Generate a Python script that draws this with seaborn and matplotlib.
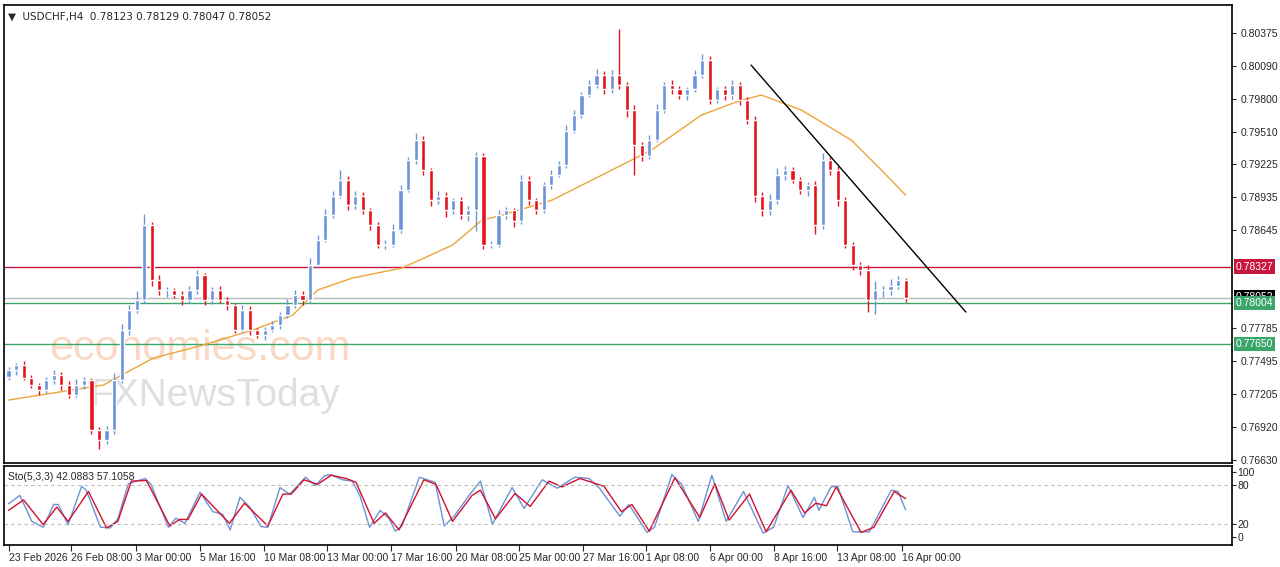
import matplotlib
matplotlib.use("Agg")
import matplotlib.pyplot as plt
import seaborn as sns
import pandas as pd
import numpy as np

# USDCHF H4 closes
closes = [0.7742, 0.7746, 0.7735, 0.7729, 0.7724, 0.7733, 0.7738, 0.7729, 0.7720, 0.7729,
          0.7733, 0.7689, 0.7681, 0.7689, 0.7733, 0.7777, 0.7795, 0.7803, 0.7869, 0.7821,
          0.7812, 0.7812, 0.7808, 0.7803, 0.7812, 0.7825, 0.7803, 0.7812, 0.7803, 0.7799,
          0.7777, 0.7795, 0.7777, 0.7773, 0.7777, 0.7781, 0.7790, 0.7799, 0.7808, 0.7803,
          0.7834, 0.7856, 0.7878, 0.7895, 0.7909, 0.7887, 0.7895, 0.7882, 0.7869, 0.7852,
          0.7852, 0.7865, 0.7900, 0.7926, 0.7944, 0.7917, 0.7891, 0.7895, 0.7882, 0.7891,
          0.7878, 0.7882, 0.7930, 0.7852, 0.7852, 0.7878, 0.7882, 0.7873, 0.7909, 0.7891,
          0.7882, 0.7904, 0.7913, 0.7922, 0.7952, 0.7966, 0.7983, 0.7992, 0.8001, 0.7988,
          0.8001, 0.7992, 0.7970, 0.7939, 0.7930, 0.7944, 0.7970, 0.7992, 0.7988, 0.7983,
          0.7988, 0.8001, 0.8014, 0.7979, 0.7988, 0.7983, 0.7992, 0.7979, 0.7961, 0.7895,
          0.7882, 0.7891, 0.7913, 0.7917, 0.7909, 0.7900, 0.7904, 0.7869, 0.7926, 0.7917,
          0.7891, 0.7852, 0.7834, 0.7830, 0.7803, 0.7812, 0.7812, 0.7816, 0.7821, 0.7805]
first_open = 0.7736
# upper / lower wick lengths in pips
wick_up = [3, 2, 4, 3, 2, 3, 4, 2, 3, 5, 3, 2, 3, 4, 6, 5, 4, 8, 10, 3,
           4, 3, 2, 3, 4, 5, 2, 3, 4, 3, 2, 4, 3, 2, 3, 4, 3, 5, 4, 3,
           6, 4, 5, 4, 8, 3, 4, 3, 2, 3, 4, 5, 4, 3, 6, 3, 2, 4, 3, 2,
           3, 4, 3, 2, 3, 4, 3, 2, 4, 3, 2, 3, 4, 3, 5, 4, 3, 4, 5, 3,
           4, 40, 3, 4, 3, 4, 5, 3, 4, 3, 2, 4, 5, 3, 2, 3, 4, 3, 2, 4,
           3, 5, 6, 4, 3, 2, 3, 4, 6, 3, 4, 3, 2, 3, 4, 8, 4, 6, 3, 2]
wick_down = [3, 4, 2, 3, 4, 2, 3, 5, 3, 2, 4, 3, 8, 4, 3, 2, 4, 3, 2, 5,
             4, 6, 3, 4, 2, 3, 4, 3, 2, 4, 3, 2, 4, 3, 5, 2, 3, 2, 3, 4,
             2, 3, 2, 3, 2, 5, 4, 3, 4, 3, 4, 2, 3, 2, 3, 4, 5, 3, 6, 3,
             4, 5, 18, 4, 3, 2, 4, 6, 3, 4, 3, 2, 3, 2, 3, 2, 3, 2, 3, 4,
             3, 4, 6, 26, 5, 3, 2, 3, 4, 3, 4, 2, 3, 4, 3, 4, 3, 5, 3, 6,
             5, 4, 3, 4, 3, 4, 5, 8, 3, 4, 5, 3, 4, 5, 10, 12, 6, 4, 3, 3]

# moving average keypoints (bar, price)
ma_bar = [0, 12.6, 19.2, 25.8, 32.4, 37.7, 41, 45.6, 52.2, 58.9, 62.8, 65.5, 72.1,
          78.7, 85.3, 91.9, 97.2, 99.9, 105.2, 111.8, 115.8, 119]
ma_val = [0.77156, 0.77288, 0.77524, 0.77638, 0.7777, 0.77901, 0.78121, 0.78226, 0.78314,
          0.78515, 0.78734, 0.78778, 0.7891, 0.79129, 0.79349, 0.79655, 0.79787, 0.79831,
          0.79699, 0.79436, 0.79173, 0.78954]

trend_bar = [98.5, 127]
trend_val = [0.80094, 0.77928]

levels = [0.78327, 0.78004, 0.77650]
level_colors = ["#c8173f", "#3aa66a", "#3aa66a"]
last_price = 0.78052
price_ticks = [0.80375, 0.80090, 0.79800, 0.79510, 0.79225, 0.78935, 0.78645,
               0.77785, 0.77495, 0.77205, 0.76920, 0.76630]

# stochastic keypoints (bar, value)
k_bar = [0, 1.5, 3.1, 4.6, 6, 6.6, 7.9, 9.7, 10.3, 12.2, 13.5, 14.5, 15.9, 18.1, 18.9, 21.2,
         22.2, 23.4, 25.4, 27.1, 28.4, 29.4, 30.7, 32, 33.5, 34.4, 36, 37.3, 39.4, 40.7, 41.9,
         42.7, 44.3, 45.6, 46.6, 47.9, 49.3, 50.5, 51.3, 52.2, 54.5, 56.6, 57.8, 59.1, 61.1,
         62.6, 64.2, 66.8, 68.4, 70.8, 72.8, 75.1, 77, 78.4, 81.1, 82.3, 84.7, 85.7, 88, 89.3,
         91.5, 93.3, 95.2, 97.5, 100.1, 101.5, 103.4, 105.4, 106.9, 107.5, 109.1, 110, 112,
         114.2, 117.1, 118, 119]
k_val = [51, 64, 24, 15, 50, 50, 19, 78, 72, 15, 14, 28, 82, 90, 81, 15,
         29, 21, 69, 39, 35, 11, 61, 46, 16, 15, 76, 66, 92, 79, 94,
         96, 88, 86, 64, 15, 41, 28, 9, 17, 92, 84, 17, 32, 64,
         86, 20, 76, 44, 88, 75, 92, 90, 75, 32, 50, 7, 15, 96, 81,
         24, 95, 24, 70, 6, 15, 79, 30, 61, 41, 77, 78, 8,
         8, 72, 70, 42]
d_bar = [0, 2, 4.6, 6.4, 7.9, 10.6, 13, 14.5, 16.3, 18.3, 21.4, 22.7, 23.8, 25.6, 29.3,
         31.3, 34.4, 36.4, 37.5, 39.2, 41, 42.8, 44.8, 46.1, 48.5, 50, 51.8, 55.1, 56.7,
         58.9, 61.5, 62.6, 64.6, 67.2, 69.2, 71.7, 73.4, 75.8, 79, 81.3, 82.7, 85, 88.4,
         91.7, 93.7, 95.6, 98.3, 100.5, 103.8, 105.6, 107.1, 108.5, 109.8, 113.1, 114.8,
         117.5, 119]
d_val = [41, 57, 19, 46, 24, 70, 14, 24, 86, 87, 17, 27, 27, 66, 21,
         52, 17, 66, 66, 88, 81, 95, 90, 84, 21, 37, 11, 88, 81,
         24, 64, 72, 28, 67, 47, 86, 77, 90, 78, 39, 50, 9, 91,
         30, 82, 26, 66, 8, 72, 37, 52, 48, 77, 7, 15,
         70, 59]

tick_bar = [0, 8.3, 16.9, 25.4, 33.9, 42.3, 50.7, 59.3, 67.7, 76.2, 84.5, 93, 101.5, 109.9, 118.5]
tick_labels = ["23 Feb 2026", "26 Feb 08:00", "3 Mar 00:00", "5 Mar 16:00", "10 Mar 08:00",
               "13 Mar 00:00", "17 Mar 16:00", "20 Mar 08:00", "25 Mar 00:00", "27 Mar 16:00",
               "1 Apr 08:00", "6 Apr 00:00", "8 Apr 16:00", "13 Apr 08:00", "16 Apr 00:00"]

sns.set_style("white")
plt.rcParams["font.family"] = ["Liberation Sans", "DejaVu Sans"]
FS = 7.5

BULL = "#6b93da"
BEAR = "#e3121b"

df = pd.DataFrame({"bar": np.arange(len(closes)), "close": closes})
df["open"] = [first_open] + closes[:-1]
df["high"] = df[["open", "close"]].max(axis=1) + np.array(wick_up) * 0.0001
df["low"] = df[["open", "close"]].min(axis=1) - np.array(wick_down) * 0.0001
df["up"] = df["close"] >= df["open"]

fig = plt.figure(figsize=(12.8, 5.67), dpi=100)
W, H = 1280, 567
ax = fig.add_axes([4 / W, 1 - 463 / H, 1228 / W, 458 / H])
ax2 = fig.add_axes([4 / W, 1 - 545 / H, 1228 / W, 79 / H])

xmax = (1232 - 5) / 7.56
for a in (ax, ax2):
    a.set_xlim(-0.6, xmax)
    for s in a.spines.values():
        s.set_color("black")
        s.set_linewidth(1.2)

# watermark
ax.text(0.037, 0.225, "economies.com", transform=ax.transAxes, fontsize=31,
        color="#f8d3bb", alpha=0.85, zorder=0)
ax.text(0.07, 0.125, "FXNewsToday", transform=ax.transAxes, fontsize=28,
        color="#dcdcdc", alpha=0.9, zorder=0)

# candles
cols = np.where(df["up"], BULL, BEAR)
ax.vlines(df["bar"], df["low"], df["high"], colors=cols, linewidth=1, zorder=3)
ax.bar(df["bar"], (df["close"] - df["open"]).abs().clip(lower=0.00004),
       bottom=df[["open", "close"]].min(axis=1), width=0.55, color=cols, zorder=4)

sns.lineplot(x=ma_bar, y=ma_val, ax=ax, color="#eea43a", linewidth=1, zorder=2)
sns.lineplot(x=trend_bar, y=trend_val, ax=ax, color="black", linewidth=1, zorder=5)

for lv, c in zip(levels, level_colors):
    ax.axhline(lv, color=c, linewidth=1, zorder=1)
ax.axhline(last_price, color="#bbbbbb", linewidth=1, zorder=1)

ax.set_ylim(0.76604, 0.80621)
ax.yaxis.tick_right()
ax.set_yticks(price_ticks)
ax.set_yticklabels([f"{t:.5f}" for t in price_ticks])
ax.tick_params(axis="y", labelsize=FS, length=3, direction="out", right=True, pad=3)
ax.set_xticks([])
ax.set_ylabel("")

box = dict(boxstyle="square,pad=0.2", ec="none")
ax.text(1.003, last_price + 0.00004, f"{last_price:.5f}", transform=ax.get_yaxis_transform(),
        va="center", ha="left", fontsize=FS, color="white", bbox={**box, "fc": "black"})
for lv, c in zip(levels, level_colors):
    ax.text(1.003, lv, f"{lv:.5f}", transform=ax.get_yaxis_transform(), va="center",
            ha="left", fontsize=FS, color="white", bbox={**box, "fc": c})

ax.text(0.003, 0.985, "\u25bc  USDCHF,H4  0.78123 0.78129 0.78047 0.78052", transform=ax.transAxes,
        va="top", ha="left", fontsize=FS, family=["DejaVu Sans"])

# stochastic
sns.lineplot(x=k_bar, y=k_val, ax=ax2, color="#6a93d6", linewidth=1)
sns.lineplot(x=d_bar, y=d_val, ax=ax2, color="#d3102c", linewidth=1)
for lv in (80, 20):
    ax2.axhline(lv, color="#bbbbbb", linewidth=0.8, linestyle=(0, (3, 3)))
ax2.set_ylim(-12.3, 109.2)
ax2.yaxis.tick_right()
ax2.set_yticks([100, 80, 20, 0])
ax2.tick_params(axis="y", labelsize=FS, length=3, pad=1)
ax2.set_ylabel("")
ax2.text(0.003, 0.92, "Sto(5,3,3) 42.0883 57.1058", transform=ax2.transAxes,
         va="top", ha="left", fontsize=FS)

ax2.set_xticks(tick_bar)
ax2.set_xticklabels(tick_labels, ha="left")
ax2.tick_params(axis="x", labelsize=FS, length=4, direction="out", bottom=True, pad=2)

fig.savefig("out.png", dpi=100, facecolor="white")
